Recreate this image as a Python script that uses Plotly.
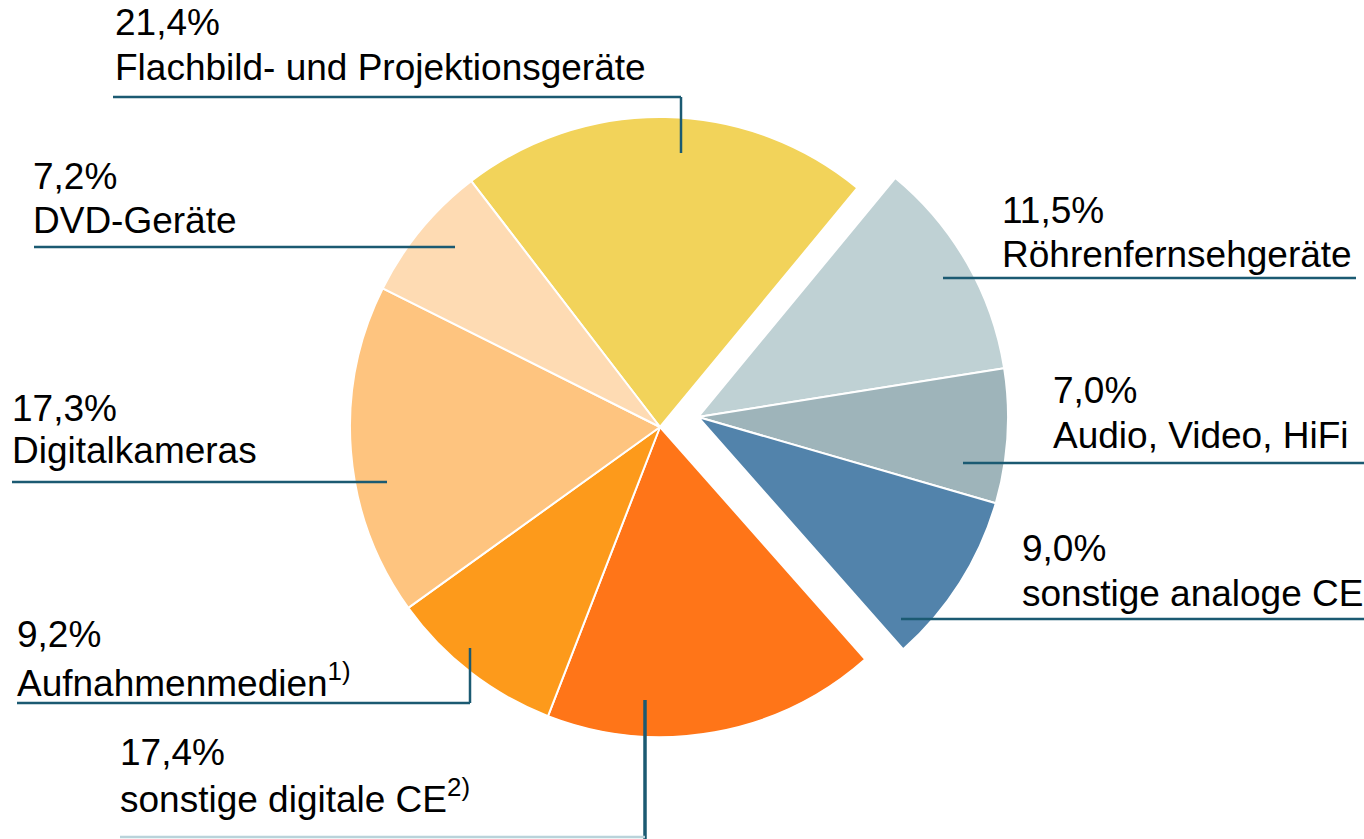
import plotly.graph_objects as go

W, H = 1364, 839

categories = [
    "Flachbild- und Projektionsgeräte",
    "Röhrenfernsehgeräte",
    "Audio, Video, HiFi",
    "sonstige analoge CE",
    "sonstige digitale CE<sup>2)</sup>",
    "Aufnahmenmedien<sup>1)</sup>",
    "Digitalkameras",
    "DVD-Geräte",
]
shares = [21.4, 11.5, 7.0, 9.0, 17.4, 9.2, 17.3, 7.2]
analog = [False, True, True, True, False, False, False, False]
colors = ["#F2D35A", "#BFD1D4", "#9EB4BA", "#5283AB",
          "#FF7518", "#FD9A1B", "#FEC47F", "#FEDBB3"]

# label text anchors (left x, cap-middle y of percent line, name line) in px
label_pos = [(115, 23, 67), (1002, 210, 254), (1053, 390, 435), (1022, 548, 593),
             (120, 752, 796), (17, 634, 680), (12, 408, 450), (33, 177, 220)]

# leader lines in px: list of segments
leaders = [
    [(113, 97, 681, 97), (681, 97, 681, 153)],
    [(943, 278, 1356, 278)],
    [(963, 463, 1364, 463)],
    [(901, 619, 1364, 619)],
    [(645, 700, 645, 839), (120, 837, 645, 837)],
    [(17, 703, 470, 703), (470, 648, 470, 703)],
    [(12, 482, 387, 482)],
    [(34, 247, 455, 247)],
]

LINE = "#1b5a72"
R = 310


def px_x(x):
    return x / W


def px_y(y):
    return 1 - y / H


def dom(cx, cy):
    return dict(x=[px_x(cx - R), px_x(cx + R)], y=[px_y(cy + R), px_y(cy - R)])


def pie(show, cx, cy):
    # same values in both traces so slice angles line up; hidden slices are transparent
    cols = [c if s else "rgba(0,0,0,0)" for c, s in zip(colors, show)]
    widths = [2 if s else 0 for s in show]
    return go.Pie(
        values=shares,
        labels=categories,
        sort=False,
        direction="clockwise",
        rotation=-37.5,
        marker=dict(colors=cols, line=dict(color="white", width=widths)),
        textinfo="none",
        hoverinfo="skip",
        showlegend=False,
        domain=dom(cx, cy),
    )


fig = go.Figure([
    pie([not a for a in analog], 660, 427),
    pie(analog, 698, 417),
])

font = dict(family="Liberation Sans, Arial, sans-serif", size=37, color="black")
for name, val, (lx, y1, y2) in zip(categories, shares, label_pos):
    pct = f"{val:.1f}%".replace(".", ",")
    for txt, yy in ((pct, y1), (name, y2)):
        fig.add_annotation(
            x=px_x(lx - 2), y=px_y(yy), xref="paper", yref="paper",
            text=txt, showarrow=False, xanchor="left", yanchor="middle",
            font=font,
        )

for i, segs in enumerate(leaders):
    for x0, y0, x1, y1 in segs:
        thick = 3.5 if (i == 4 and x0 == x1) else 2.5
        col = "#b9d3da" if (i == 4 and y0 == y1) else LINE
        fig.add_shape(
            type="line", xref="paper", yref="paper",
            x0=px_x(x0), y0=px_y(y0), x1=px_x(x1), y1=px_y(y1),
            line=dict(color=col, width=thick),
        )

fig.update_layout(
    width=W,
    height=H,
    margin=dict(l=0, r=0, t=0, b=0),
    paper_bgcolor="white",
    plot_bgcolor="white",
)

fig.write_html(
    "out.html",
    config={"displayModeBar": False},
    post_script="document.body.style.margin='0';",
)
